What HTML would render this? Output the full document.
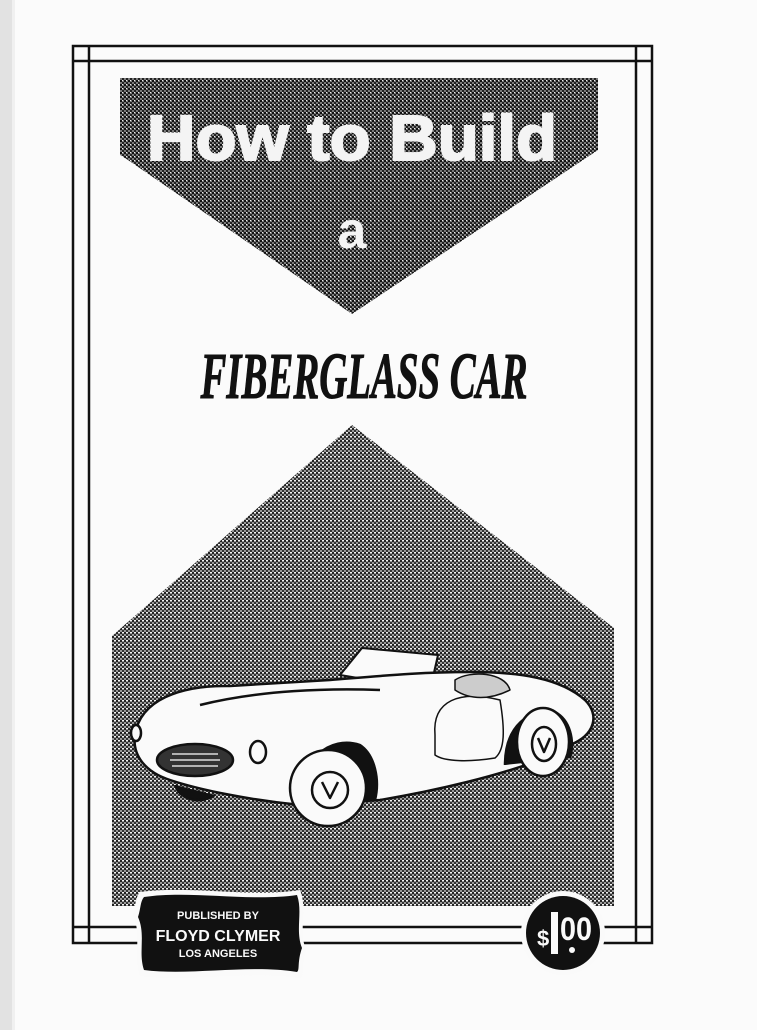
<!DOCTYPE html>
<html><head><meta charset="utf-8"><style>
html,body{margin:0;padding:0;background:#fcfcfc;}
svg{display:block}
</style></head><body>
<svg width="757" height="1030" viewBox="0 0 757 1030" xmlns="http://www.w3.org/2000/svg">
<defs>
<pattern id="ht" width="4" height="4" patternUnits="userSpaceOnUse">
<rect width="4" height="4" fill="#7a7a7a"/>
<rect x="0" y="0" width="2" height="2" fill="#111"/>
<rect x="2" y="2" width="2" height="2" fill="#222"/>
<rect x="2" y="0" width="1" height="1" fill="#eee"/>
</pattern>
<pattern id="ht2" width="4" height="4" patternUnits="userSpaceOnUse">
<rect width="4" height="4" fill="#9a9a9a"/>
<rect x="0" y="0" width="2" height="2" fill="#222"/>
<rect x="2" y="2" width="2" height="2" fill="#333"/>
<rect x="2" y="0" width="2" height="1" fill="#f4f4f4"/>
</pattern>
</defs>
<rect width="757" height="1030" fill="#fbfbfb"/>
<rect x="0" y="0" width="12" height="1030" fill="#e2e2e2"/>
<rect x="12" y="0" width="3" height="1030" fill="#f0f0f0"/>
<!-- frames -->
<rect x="73" y="46" width="579" height="897" fill="none" stroke="#111" stroke-width="2.5"/>
<line x1="89" y1="46" x2="89" y2="943" stroke="#111" stroke-width="2.5"/>
<line x1="636" y1="46" x2="636" y2="943" stroke="#111" stroke-width="2.5"/>
<line x1="73" y1="61" x2="652" y2="61" stroke="#111" stroke-width="2.5"/>
<line x1="73" y1="927" x2="652" y2="927" stroke="#111" stroke-width="2.5"/>
<!-- top pentagon -->
<polygon points="120,78 598,78 598,150 352,314 128,160 120,155" fill="url(#ht)"/>
<text x="352" y="160" font-family="Liberation Sans, sans-serif" font-weight="bold" font-size="64" fill="#f4f4f4" stroke="#f4f4f4" stroke-width="2" text-anchor="middle" textLength="410" lengthAdjust="spacingAndGlyphs">How to Build</text>
<text x="352" y="248" font-family="Liberation Sans, sans-serif" font-weight="bold" font-size="52" fill="#f4f4f4" text-anchor="middle">a</text>
<text x="364" y="398" font-family="Liberation Serif, serif" font-weight="bold" font-style="italic" font-size="66" fill="#111" stroke="#111" stroke-width="1" text-anchor="middle" textLength="327" lengthAdjust="spacingAndGlyphs">FIBERGLASS CAR</text>
<!-- bottom pentagon -->
<polygon points="352,425 614,628 614,906 112,906 112,636" fill="url(#ht2)"/>
<!-- car -->
<g stroke="#111" stroke-width="2.5" fill="#fafafa" stroke-linejoin="round">
<polygon points="340,675 362,648 438,655 430,690" stroke-width="2"/>
<path d="M135,735 C140,700 180,685 230,686 L330,680 C380,676 420,672 470,672 C520,672 560,678 585,700 C600,715 595,735 570,745 L540,760 C500,775 440,790 380,800 L300,805 C250,800 200,790 170,780 C145,772 132,755 135,735 Z"/>
<path d="M300,800 C300,760 330,735 360,745 C375,755 380,780 375,800" fill="#111"/>
<path d="M505,765 C505,725 530,708 555,712 C570,720 575,740 570,758" fill="#111"/>
<circle cx="328" cy="788" r="38"/>
<circle cx="330" cy="790" r="18"/>
<path d="M322,782 L330,798 L338,782" fill="none"/>
<ellipse cx="543" cy="742" rx="26" ry="34"/>
<ellipse cx="544" cy="744" rx="12" ry="17"/>
<path d="M538,738 L544,752 L550,738" fill="none"/>
<ellipse cx="195" cy="760" rx="38" ry="16" fill="#333"/>
<path d="M170,760 L220,760 M172,754 L218,754 M172,766 L218,766" stroke="#ddd" stroke-width="1.5"/>
<path d="M200,705 C260,690 330,688 380,690" fill="none"/>
<path d="M435,735 C432,700 460,690 500,700 C505,730 505,750 495,758 C470,762 445,762 435,755 Z" fill="none" stroke-width="1.5"/>
<path d="M455,680 C470,670 505,672 510,690 C490,700 470,700 455,690 Z" fill="#ccc" stroke-width="1.5"/>
<ellipse cx="258" cy="752" rx="8" ry="11"/>
<ellipse cx="136" cy="733" rx="5" ry="8"/>
<path d="M175,785 C180,800 200,805 215,795" fill="#111"/>
</g>
<!-- publisher badge -->
<path d="M140,892 C190,885 250,898 300,890 C308,910 298,930 306,950 C300,968 305,975 300,978 C250,970 190,982 140,976 C133,955 142,935 133,915 C136,905 135,898 140,892 Z" fill="#fafafa"/>
<path d="M144,897 C190,890 250,902 297,895 C303,912 295,930 302,948 C297,962 300,970 297,972 C250,964 190,976 144,970 C138,952 146,935 138,917 C141,908 140,902 144,897 Z" fill="#111"/>
<g font-family="Liberation Sans, sans-serif" font-weight="bold" fill="#fafafa" text-anchor="middle">
<text x="218" y="919" font-size="11">PUBLISHED BY</text>
<text x="218" y="941" font-size="16">FLOYD CLYMER</text>
<text x="218" y="957" font-size="11">LOS ANGELES</text>
</g>
<!-- price -->
<circle cx="563" cy="933" r="42" fill="#fafafa"/>
<circle cx="563" cy="933" r="37" fill="#111"/>
<text x="537" y="946" font-family="Liberation Sans, sans-serif" font-weight="bold" font-size="22" fill="#fafafa">$</text>
<rect x="551" y="912" width="7" height="42" fill="#fafafa"/>
<text x="560" y="940" font-family="Liberation Sans, sans-serif" font-weight="bold" font-size="32" fill="#fafafa" textLength="32" lengthAdjust="spacingAndGlyphs">00</text>
<circle cx="572" cy="950" r="3" fill="#fafafa"/>
</svg>
</body></html>
